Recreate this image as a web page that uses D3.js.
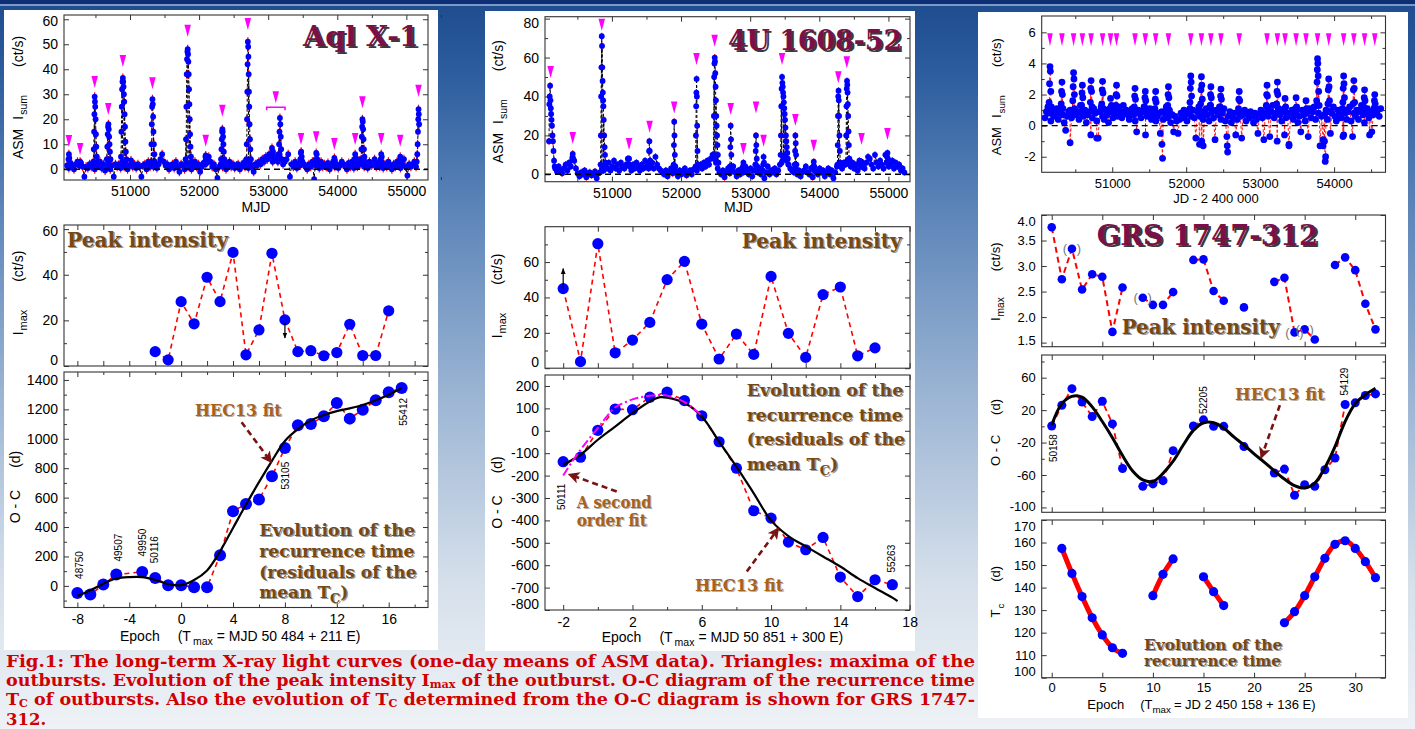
<!DOCTYPE html>
<html>
<head>
<meta charset="utf-8">
<script src="https://cdn.jsdelivr.net/npm/d3@7"></script>
<style>
  body { margin: 0; }
  svg { display: block; }
</style>
</head>
<body>
<svg width="1415" height="729"></svg>
<script>
const svg = d3.select("svg");
const SANS = "'Liberation Sans', Arial, sans-serif";
const SERIF = "'DejaVu Serif', 'Liberation Serif', serif";

// ---------- Aql X-1 ----------
const aqlStart = 50090, aqlStep = 25;
const aqlBase = [
  1.5, 0.5, 2.5, 1, 0, 2, 3, 1.5, 2.5, 1,
  -3, 1, 0.5, 2, 1, 2.5, 0, 1, 1.5, 3,
  0.5, 2, -0.5, 1, 2.5, 0, 1.5, -3, 2, 1,
  2, 0.5, 3, 1, 2, 0, 1.5, 3.5, 1, 2,
  0.5, 2, 1, -3, 1.5, 2, 0, 3, 1, 2,
  1, 2.5, 0.5, 2, 4, 6, 3, 1.5, 2, 0,
  1, 2, 0.5, 3, 1, -1, 2, 1.5, 0, 2.5,
  1, 2, 0, 1.5, 3, 1, 2, -1, 1, 2.5,
  2, 4, 5, 3, 1, 2, 0, -3.5, 1, 2,
  1, 2.5, 0, 1.5, 3, 1, 2, 0.5, 1.5, 2,
  0, 1, 2.5, 1, 3, 0.5, 2, 1, -1, 2,
  1.5, 3, 2, 4, 3, 5, 4, 6, 5, 3,
  4, 5, 3, 6, 4, 2, 3, 4, 6, -3,
  2, 1, 3, 0.5, 2, 1.5, 3, 2, 1, 0,
  2, 1, 3, -4, 1.5, 2, 0.5, 3, 1, 2,
  1, 2.5, 0, 1.5, 3, 1, 2, 0.5, 1.5, 3,
  2, 1, 0, 2.5, 1, 3, 0.5, 2, 1, 3.5,
  2, 3, 1, 2, 0.5, 3, 1.5, 2, 4, 1,
  2.5, 1, 3, 0.5, 2, 1, 3, 1.5, 0, 2,
  1, 3, 2, 0.5, 2, 4, 1, -2.5, 2, 1,
  2, 3, 1
];
const aqlBursts = [
  [50104, 1.5], [50110, 4], [50116, 6], [50122, 4.5], [50130, 2],
  [50270, 2], [50278, 3], [50286, 2.5],
  [50470, 3], [50476, 8], [50481, 15], [50485, 22], [50489, 29], [50493, 27], [50497, 25], [50502, 20], [50507, 14], [50513, 9], [50520, 5], [50530, 3],
  [50665, 4], [50672, 9], [50678, 14], [50683, 17], [50688, 18], [50693, 16], [50698, 13], [50704, 10], [50710, 7], [50718, 4],
  [50870, 5], [50876, 15], [50881, 25], [50886, 32], [50891, 35], [50897, 36.5], [50902, 35], [50907, 33], [50912, 30], [50917, 27], [50922, 22], [50928, 17], [50934, 11], [50940, 7], [50948, 4],
  [51305, 3], [51311, 10], [51316, 18], [51320, 25], [51325, 28], [51330, 26], [51335, 21], [51340, 15], [51346, 10], [51353, 6], [51360, 3],
  [51805, 4], [51811, 12], [51816, 25], [51821, 38], [51826, 44], [51831, 47], [51835, 48], [51840, 46], [51845, 43], [51850, 38], [51855, 32], [51860, 26], [51865, 20], [51870, 14], [51876, 9], [51883, 5], [51890, 3],
  [52085, 3], [52092, 5], [52096, 5.5], [52102, 4], [52110, 2.5],
  [52318, 4], [52324, 8], [52329, 12], [52333, 15], [52337, 16], [52342, 15], [52347, 13], [52352, 10], [52358, 7], [52365, 4],
  [52685, 4], [52690, 10], [52694, 20], [52698, 31], [52702, 42], [52706, 51], [52710, 49], [52714, 45], [52718, 38], [52722, 31], [52726, 25], [52731, 18], [52736, 12], [52742, 8], [52750, 4],
  [53040, 6], [53055, 8.5], [53070, 7], [53090, 5], [53150, 6], [53158, 10], [53164, 15], [53170, 20.5], [53176, 18], [53182, 13], [53188, 8], [53196, 4],
  [53465, 4], [53472, 6.5], [53478, 7], [53485, 5], [53495, 3],
  [53688, 4], [53695, 6.5], [53702, 6], [53710, 4],
  [53950, 3], [53958, 4.5], [53966, 3.5],
  [54250, 4], [54259, 6], [54268, 4.5],
  [54345, 4], [54350, 8], [54355, 13], [54360, 17], [54364, 20], [54369, 19], [54374, 16], [54380, 12], [54386, 8], [54393, 5], [54400, 3],
  [54628, 4], [54636, 6], [54644, 5],
  [54903, 3.5], [54911, 5], [54919, 4],
  [55150, 3], [55158, 6], [55163, 10], [55168, 15], [55172, 20], [55176, 24], [55180, 22], [55184, 18]
];
const aqlTri = [50116, 50278, 50489, 50686, 50897, 51325, 51835, 52096, 52337, 52706, 53110, 53475, 53695, 53958, 54259, 54364, 54636, 54911, 55176];
const aqlTriTop = [8.9, 5.7, 32.5, 21.7, 40.9, 32, 53, 9, 21, 55.7, 26.4, 9.7, 10.4, 7.7, 9.7, 24.4, 9.7, 9, 29];
const aqlPeakEpoch = [-2, -1, 0, 1, 2, 3, 4, 5, 6, 7, 8, 9, 10, 11, 12, 13, 14, 15, 16];
const aqlPeak = [6.3, 2.7, 28.2, 18.5, 38.9, 28.2, 49.8, 4.9, 15.8, 49.4, 20.2, 6.3, 6.7, 4.5, 5.9, 18.3, 4.6, 4.6, 24.2];
const aqlOCEpoch = [-8, -7, -6, -5, -3, -2, -1, 0, 1, 2, 3, 4, 5, 6, 7, 8, 9, 10, 11, 12, 13, 14, 15, 16, 17];
const aqlOC = [-48, -59, 9, 77, 95, 54, 5, 5, -9, -9, 208, 507, 557, 587, 745, 938, 1092, 1101, 1153, 1243, 1137, 1198, 1262, 1316, 1345];
const aqlFitEpoch = [-8, -7, -6, -5, -4, -3, -2, -1, 0, 1, 2, 3, 4, 5, 6, 7, 8, 9, 10, 11, 12, 13, 14, 15, 16, 17];
const aqlFit = [-68, -30, 15, 50, 60, 60, 40, 12, 5, 40, 105, 235, 394, 553, 705, 850, 985, 1065, 1125, 1162, 1188, 1207, 1230, 1262, 1300, 1345];

// ---------- 4U 1608-52 ----------
const uStart = 50180, uStep = 25;
const uBase = [
  3, 1.5, 4, 2, 0.5, 3, 5, 2, 6, 4,
  9, 7, 3, 0.5, -1, 1, 0, 2, -1.5, 0.5,
  1, -0.5, 0, 1.5, -2, 0.5, 1, 3, 2, 5,
  3, 6, 2, 4, 7, 3, 5, 2, 6, 4,
  3, 5, 8, 4, 2, 5, 3, 6, 4, 2,
  5, 3, 7, 4, 3, 4, 6, 3, 9, 5,
  3, 2, 1, 0, 2, -1, 1, 3, 0.5, 2,
  1, -1, 2, 0, 1.5, 3, -0.5, 1, 2, 0,
  2.5, 3, 2, 4, 5, 3, 6, 4, 7, 5,
  8, 10, 8, 6, 3, 1, 0, 2, -1.5, 1,
  3, 0.5, 2, 4, 1, -1, 2, 0, 3, 1,
  4, 2, 0, 3, -1, 2, 5, 1, 3, 0,
  2, -2, 1, 4, 0, 2, 1, 3, 0, 2,
  5, 6, 8, 10, 7, 5, 3, 2, 1, 3,
  0, 2, -1, 1, 2, 4, 1, 0, 3, -1.5,
  2, 1, 0, 3, 1, 2, -1, 1, 3, 0,
  2, -2, 1, 4, 5, 4, 3, 6, 5, 7,
  6, 4, 6, 3, 5, 2, 7, 4, 5, 3,
  6, 9, 8, 5, 3, 10, 6, 4, 7, 5,
  3, 10, 6, 4, 5, 7, 3, 6, 4, 5,
  2, 3, 1
];
const uBursts = [
  [50090, 17], [50095, 36], [50100, 40], [50106, 45.5], [50111, 38], [50116, 34], [50121, 31], [50127, 28], [50133, 25], [50140, 20], [50147, 17], [50155, 12], [50163, 7], [50172, 4],
  [50428, 8], [50433, 10.5], [50440, 8],
  [50835, 5], [50840, 20], [50844, 40], [50848, 55], [50853, 71], [50857, 66], [50861, 55], [50865, 48], [50869, 42], [50873, 38], [50877, 35], [50882, 28], [50888, 20], [50895, 14], [50900, 10], [50908, 6],
  [51243, 5], [51248, 8], [51255, 5],
  [51533, 6], [51538, 12], [51542, 17], [51547, 12], [51553, 7],
  [51893, 5], [51897, 15], [51901, 27], [51905, 20], [51910, 10], [51917, 4],
  [52210, 4], [52215, 20], [52219, 35], [52222, 42], [52225, 49], [52229, 40], [52233, 25], [52238, 12], [52245, 5],
  [52470, 10], [52475, 30], [52479, 50], [52483, 57], [52487, 60], [52491, 58], [52495, 52], [52500, 45], [52505, 38], [52510, 30], [52515, 25], [52521, 20], [52527, 15], [52533, 10], [52541, 6],
  [52708, 4], [52713, 14], [52718, 25], [52723, 18], [52728, 10], [52735, 4],
  [52896, 4], [52902, 6], [52909, 4],
  [53075, 5], [53080, 12], [53084, 20], [53089, 15], [53095, 8], [53102, 4],
  [53188, 5], [53194, 9], [53200, 6],
  [53440, 10], [53445, 20], [53450, 35], [53455, 44], [53461, 50], [53466, 47], [53471, 45], [53476, 42], [53481, 40], [53487, 37], [53493, 34], [53499, 31], [53505, 28], [53511, 24], [53517, 20], [53523, 17], [53530, 14], [53537, 11], [53545, 8], [53553, 5],
  [53645, 5], [53650, 12], [53654, 20], [53659, 16], [53664, 10], [53670, 5],
  [53913, 4], [53920, 6.5], [53927, 4],
  [54262, 5], [54266, 15], [54270, 30], [54274, 40], [54278, 43], [54282, 38], [54286, 30], [54291, 20], [54297, 12], [54305, 6],
  [54385, 6], [54389, 20], [54393, 35], [54397, 44], [54401, 48], [54405, 46], [54409, 42], [54413, 36], [54418, 30], [54423, 22], [54428, 15], [54435, 8], [54443, 5],
  [54604, 4], [54611, 6.5], [54618, 5],
  [54975, 6], [54981, 9], [54986, 11], [54992, 8], [55000, 5]
];
const uTri = [50113, 50433, 50853, 51248, 51545, 51901, 52224, 52486, 52718, 52902, 53084, 53194, 53461, 53654, 53920, 54275, 54398, 54611, 54986];
const uTriTop = [49.5, 15.6, 73.8, 12.5, 21.4, 31.3, 56.2, 65.6, 30.5, 9.9, 31.3, 14.2, 56.2, 24.8, 11.6, 46.8, 54.5, 15.1, 17.6];
const uPeakEpoch = [-2, -1, 0, 1, 2, 3, 4, 5, 6, 7, 8, 9, 10, 11, 12, 13, 14, 15, 16];
const uPeak = [45.0, 3.7, 70.4, 8.7, 15.9, 25.9, 50.1, 60.4, 24.9, 5.2, 19.3, 7.8, 51.9, 19.7, 6.1, 41.6, 45.9, 7.0, 11.5];
const uOCEpoch = [-2, -1, 0, 1, 2, 3, 4, 5, 6, 7, 8, 9, 10, 11, 12, 13, 14, 15, 16, 17];
const uOC = [-138, -118, 2, 97, 94, 150, 173, 135, 67, -49, -167, -357, -390, -497, -531, -476, -653, -740, -665, -687];
const uFitEpoch = [-2, -1, 0, 1, 2, 3, 3.6, 4, 5, 6, 7, 8, 9, 10, 11, 12, 13, 14, 15, 16, 17, 17.3];
const uFit = [-152, -107, -40, 19, 79, 131, 150, 148, 124, 64, -48, -160, -279, -400, -470, -516, -561, -606, -658, -702, -745, -760];
const uFit2Epoch = [-2, -1.5, -1, -0.5, 0, 0.5, 1, 1.5, 2, 2.5, 3, 3.5, 4, 5, 6];
const uFit2 = [-200, -140, -85, -35, 12, 62, 105, 125, 140, 150, 156, 160, 157, 128, 68];

// ---------- GRS 1747-312 ----------
const gStart = 50090, gStep = 20;
const gBase = [
  0.5, 0.9, 1.2, 0.8, 0.3, 1.0, 0.6, 0.9, 1.1, 0.4,
  0.8, 1.2, 0.7, 0.2, -0.3, 0.6, 0.9, 1.0, 0.5, 0.8,
  1.1, 0.7, 0.9, 0.4, 1.3, 0.8, 0.6, 1.0, 0.2, 0.7,
  0.9, -0.6, 0.5, 1.1, 0.8, 0.3, -0.8, 0.9, 1.2, 0.6,
  0.4, 1.0, 0.7, 0.2, 0.9, 1.3, 0.5, 0.8, 1.1, 0.6,
  1.2, 0.9, 0.5, 1.3, 0.8, 1.0, 0.7, 0.4, 0.9, 1.1,
  0.7, 0.3, -0.4, 1.0, 0.8, 0.5, 0.9, 1.2, -0.6, 0.6,
  0.9, 1.1, 0.4, 0.7, 1.0, 0.3, 0.6, 0.8, -0.5, 0.9,
  0.4, 0.8, 1.2, 0.5, 0.9, 0.2, 0.7, -0.4, 0.6, 0.3,
  -0.5, 0.4, 0.8, 0.5, 1.0, 0.7, 0.3, 0.9, 1.1, 0.6,
  1.0, 0.5, -0.8, 0.9, 1.2, 0.6, -1.0, 0.4, 0.8, 1.1,
  0.7, 0.3, 1.3, 0.9, 0.5, -0.9, 1.0, 0.7, 1.2, 0.4,
  0.8, 1.1, 0.3, -0.7, 0.6, 0.9, 0.2, 0.5, 0.8, -0.6,
  0.4, 0.9, 0.6, -0.8, 0.7, 1.0, 0.3, 0.8, 0.5, 0.9,
  0.6, 0.2, 0.8, 0.4, -0.5, 0.7, 1.0, 0.5, -0.9, 0.8,
  1.2, 0.6, -0.7, 0.9, 1.3, 0.5, 0.8, -1.0, 1.1, 0.7,
  0.3, 0.9, -0.6, 0.5, 0.8, -1.2, 0.6, 1.0, 0.4, 0.7,
  0.9, 0.2, 0.6, -0.4, 1.0, 0.7, 0.3, 0.8, -0.7, 1.1,
  0.5, 0.9, 1.2, 0.4, 1.3, 0.8, -1.3, 0.6, -0.9, 0.7,
  1.0, 0.4, 0.9, -0.5, 0.8, 1.2, 0.6, 0.3, 1.0, 0.7,
  0.5, 1.1, -0.6, 0.8, 0.4, 0.9, 1.2, 0.3, -0.7, 0.8,
  0.6, 1.0, 0.4, 0.9, 1.3, 0.7, 0.2, 0.8, 1.1, 0.5,
  0.9, -0.4, 0.7, 1.2, 0.8, 1.0, 0.6, 1.1
];
const gSpikes = [
  [50146, 1.5], [50152, 2.7], [50158, 3.8], [50163, 3.5], [50169, 2.2], [50176, 1.2],
  [50310, 1.4], [50315, 2.2], [50320, 2.8], [50326, 2.0], [50333, 1.1],
  [50466, 1.6], [50471, 2.5], [50477, 3.4], [50482, 3.0], [50488, 2.0], [50495, 1.0],
  [50586, 1.3], [50591, 2.1], [50596, 2.6], [50602, 1.8], [50609, 1.0],
  [50704, 1.5], [50709, 2.4], [50714, 2.9], [50720, 2.2], [50727, 1.2],
  [50858, 1.4], [50864, 2.3], [50869, 2.85], [50875, 2.1], [50882, 1.1],
  [50968, 1.1], [50977, 1.75], [50985, 1.2],
  [51048, 1.3], [51053, 2.0], [51058, 2.6], [51064, 1.9], [51071, 1.0],
  [51298, 1.2], [51303, 1.9], [51308, 2.4], [51314, 1.7], [51321, 0.9],
  [51437, 1.2], [51442, 1.8], [51447, 2.2], [51453, 1.6], [51460, 0.9],
  [51577, 1.1], [51582, 1.7], [51587, 2.2], [51593, 1.5], [51600, 0.8],
  [51750, 1.3], [51755, 2.0], [51760, 2.5], [51766, 1.8], [51773, 1.0],
  [52051, 1.5], [52056, 2.4], [52062, 3.2], [52067, 2.8], [52073, 1.9], [52080, 1.0],
  [52195, 1.4], [52200, 2.3], [52206, 3.15], [52211, 2.6], [52217, 1.7], [52224, 0.9],
  [52324, 1.3], [52329, 2.0], [52334, 2.5], [52340, 1.8], [52347, 1.0],
  [52460, 1.2], [52465, 1.9], [52470, 2.35], [52476, 1.7], [52483, 0.9],
  [52707, 1.1], [52712, 1.7], [52717, 2.2], [52723, 1.6], [52730, 0.8],
  [53083, 1.3], [53088, 2.0], [53093, 2.6], [53099, 1.9], [53106, 1.0],
  [53223, 1.4], [53228, 2.2], [53233, 2.8], [53239, 2.0], [53246, 1.1],
  [53328, 1.1], [53337, 1.75], [53345, 1.2],
  [53477, 1.1], [53486, 1.8], [53494, 1.2],
  [53611, 1.0], [53620, 1.6], [53628, 1.1],
  [53764, 1.6], [53769, 2.8], [53773, 3.6], [53776, 4.3], [53780, 4.0], [53785, 3.2], [53791, 2.2], [53798, 1.3],
  [53916, 1.4], [53921, 2.3], [53927, 3.0], [53932, 2.5], [53938, 1.6], [53945, 0.9],
  [54118, 1.5], [54123, 2.4], [54129, 3.2], [54134, 2.7], [54140, 1.8], [54147, 1.0],
  [54256, 1.4], [54261, 2.3], [54267, 2.9], [54272, 2.4], [54278, 1.5],
  [54402, 1.2], [54407, 1.8], [54412, 2.3], [54418, 1.6], [54425, 0.9],
  [54540, 1.1], [54545, 1.6], [54550, 2.0], [54556, 1.4], [54563, 0.8]
];
const gDips = [[50430, -1.1], [50790, -0.8], [51672, -1.2], [51680, -2.1], [52180, -1.2], [52230, -1.3],
  [52555, -1.3], [52560, -1.7], [53390, -1.3], [53850, -1.3], [53870, -1.0], [53880, -2.3], [53885, -2.0],
  [54120, -0.7], [54480, -0.6]];
const gTri = [50158, 50320, 50477, 50596, 50714, 50869, 50977, 51058, 51308, 51447, 51587, 51760, 52062, 52206,
  52334, 52470, 52717, 53093, 53233, 53337, 53486, 53620, 53776, 53927, 54129, 54267, 54412, 54550];
const gTriTop = 5.1;
const gPeakEpoch = [0, 1, 2, 3, 4, 5, 6, 7, 9, 10, 11, 12, 14, 15, 16, 17, 19, 22, 23, 24, 25, 26, 28, 29, 30, 31, 32];
const gPeak = [3.76, 2.74, 3.34, 2.54, 2.84, 2.79, 1.71, 2.58, 2.38, 2.24, 2.24, 2.49, 3.12, 3.13, 2.51, 2.32, 2.19, 2.69, 2.77, 1.70, 1.76, 1.56, 3.02, 3.17, 2.92, 2.26, 1.76];
const gParen = [2, 9, 24, 25];
const gOCEpoch = [0, 1, 2, 3, 4, 5, 6, 7, 9, 10, 11, 12, 14, 15, 16, 17, 19, 22, 23, 24, 25, 26, 27, 28, 29, 30, 31, 32];
const gOC = [0.4, 26, 46.5, 30, 12, 31, 3, -52, -74, -71, -67, -30, 0.4, 8, 0, 0, -25, -57.5, -52.7, -85, -72, -74, -53.5, -39, 27, 29, 38, 40];
const gFitEpoch = [0, 1, 2, 3, 4, 5, 6, 7, 8, 9, 10, 11, 12, 13, 14, 15, 16, 17, 18, 19, 20, 21, 22, 23, 24, 25, 26, 27, 28, 29, 30, 31, 32];
const gFit = [1.6, 28, 37, 36, 24, 6, -14, -36, -55, -66, -68, -58, -43, -23, -5, 4.5, 4.5, -2, -13, -23, -34, -44, -55, -65, -73, -76, -70, -51, -25, 6, 28, 39, 47];
const gTcEpoch = [1, 2, 3, 4, 5, 6, 7, 10, 11, 12, 15, 16, 17, 23, 24, 25, 26, 27, 28, 29, 30, 31, 32];
const gTc = [157.4, 146.3, 136.0, 126.6, 119.0, 113.3, 110.8, 136.4, 145.9, 152.7, 144.8, 138.2, 132.0, 124.4, 129.3, 136.4, 144.8, 153.0, 159.2, 160.8, 157.4, 151.5, 144.4];

// ---------- background ----------
const defs = svg.append('defs');
const grad = defs.append('linearGradient').attr('id', 'bg').attr('x1', 0).attr('y1', 0).attr('x2', 0).attr('y2', 1);
[[0, '#1e4c8e'], [0.1, '#2d5d9e'], [0.3, '#5f87ba'], [0.55, '#9db6d4'], [0.8, '#d6e0eb'], [1, '#eef2f6']]
  .forEach(([o, c]) => grad.append('stop').attr('offset', o).attr('stop-color', c));
svg.append('rect').attr('width', 1415).attr('height', 729).attr('fill', 'url(#bg)');
svg.append('rect').attr('width', 1415).attr('height', 4).attr('fill', '#0e2f75');
svg.append('line').attr('x1', 0).attr('x2', 1415).attr('y1', 5).attr('y2', 5).attr('stroke', '#9db5d8').attr('stroke-width', 1.5);
[[4, 10, 434, 640], [485, 11, 430, 640], [978, 12, 430, 706]].forEach(([x, y, w, h]) =>
  svg.append('rect').attr('x', x).attr('y', y).attr('width', w).attr('height', h).attr('fill', '#fff'));

defs.append('marker').attr('id', 'ah').attr('viewBox', '0 0 10 10').attr('refX', 8).attr('refY', 5)
  .attr('markerWidth', 4.5).attr('markerHeight', 4.5).attr('orient', 'auto')
  .append('path').attr('d', 'M0,0L10,5L0,10L2.5,5Z').attr('fill', '#7a1212');
defs.append('marker').attr('id', 'ahk').attr('viewBox', '0 0 10 10').attr('refX', 9).attr('refY', 5)
  .attr('markerWidth', 5).attr('markerHeight', 5).attr('orient', 'auto')
  .append('path').attr('d', 'M0,1L10,5L0,9Z').attr('fill', '#000');

// ---------- helpers ----------
let clipN = 0;
function panel(c) {
  const x = d3.scaleLinear().domain(c.xd).range([c.l, c.r]);
  const y = d3.scaleLinear().domain(c.yd).range([c.b, c.t]);
  const g = svg.append('g');
  const fs = c.fs || 14;
  const id = 'clip' + (clipN++);
  defs.append('clipPath').attr('id', id).append('rect')
    .attr('x', c.l).attr('y', c.t).attr('width', c.r - c.l).attr('height', c.b - c.t);
  function ax(axis, tr, vals, size, fmt, pad) {
    const a = g.append('g').attr('transform', tr)
      .call(axis.tickValues(vals || []).tickSize(-size).tickPadding(pad || 6).tickFormat(fmt || ''));
    a.select('.domain').remove();
    a.selectAll('line').attr('stroke', '#333');
    a.attr('font-family', SANS).attr('font-size', fs);
    a.selectAll('text').attr('fill', '#000');
    return a;
  }
  const xf = c.xlab ? (c.xfmt || (d => String(d))) : null;
  const yf = c.yfmt || (d => String(d));
  ax(d3.axisBottom(x), `translate(0,${c.b})`, c.xt, 5, xf, c.xpad);
  ax(d3.axisBottom(x), `translate(0,${c.b})`, c.xm, 3);
  ax(d3.axisTop(x), `translate(0,${c.t})`, c.xt, 5);
  ax(d3.axisTop(x), `translate(0,${c.t})`, c.xm, 3);
  const la = ax(d3.axisLeft(y), `translate(${c.l},0)`, c.yt, 5, yf, 6);
  la.selectAll('text').attr('y', d => {
    const p = y(d);
    return Math.max(0, c.t + 6 - p) - Math.max(0, p - (c.b - 6));
  });
  ax(d3.axisLeft(y), `translate(${c.l},0)`, c.ym, 3);
  ax(d3.axisRight(y), `translate(${c.r},0)`, c.yt, 5);
  ax(d3.axisRight(y), `translate(${c.r},0)`, c.ym, 3);
  g.append('rect').attr('x', c.l).attr('y', c.t).attr('width', c.r - c.l).attr('height', c.b - c.t)
    .attr('fill', 'none').attr('stroke', '#333').attr('stroke-width', 1.1);
  return { x, y, g, clip: `url(#${id})`, c };
}

function rich(t, parts, fs) {
  let down = 0;
  parts.forEach(p => {
    const s = typeof p === 'string' ? { t: p } : p;
    const sh = s.sub ? fs * (s.sh || 0.32) : 0;
    const ts = t.append('tspan').text(s.t);
    if (sh - down) ts.attr('dy', sh - down);
    if (s.dx) ts.attr('dx', s.dx);
    if (s.sub) ts.attr('font-size', fs * (s.k || 0.75));
    down = sh;
  });
  return t;
}

function sansText(x, y, parts, fs, o = {}) {
  const t = svg.append('text').attr('font-family', SANS).attr('font-size', fs).attr('fill', '#000')
    .attr('text-anchor', o.anchor || 'start');
  if (o.rot) t.attr('transform', `translate(${x},${y}) rotate(-90)`);
  else t.attr('x', x).attr('y', y);
  return rich(t, parts, fs);
}

function serifText(x, y, parts, o) {
  [[o.sh || 0, o.shc], [0, o.fill]].forEach(([d, col]) => {
    if (!col) return;
    const t = svg.append('text').attr('x', x + d).attr('y', y + d)
      .attr('font-family', SERIF).attr('font-weight', 'bold').attr('font-size', o.fs)
      .attr('fill', col).attr('text-anchor', o.anchor || 'start');
    if (o.len) t.attr('textLength', o.len).attr('lengthAdjust', 'spacingAndGlyphs');
    rich(t, parts, o.fs);
  });
}

function lightCurve(p, start, step, base, extra, o) {
  const pts = base.map((v, i) => [start + step * i, v]).concat(extra).sort((a, b) => a[0] - b[0]);
  const g = p.g.append('g').attr('clip-path', p.clip);
  g.append('g').selectAll('line').data(pts).join('line')
    .attr('x1', d => p.x(d[0])).attr('x2', d => p.x(d[0]))
    .attr('y1', d => p.y(d[1] - o.err)).attr('y2', d => p.y(d[1] + o.err))
    .attr('stroke', '#ff0000').attr('stroke-width', 1.2);
  g.append('path').datum(pts)
    .attr('d', d3.line().x(d => p.x(d[0])).y(d => p.y(d[1])))
    .attr('fill', 'none').attr('stroke', o.line).attr('stroke-width', o.lw || 1).attr('stroke-dasharray', '3,2');
  g.append('g').selectAll('circle').data(pts).join('circle')
    .attr('cx', d => p.x(d[0])).attr('cy', d => p.y(d[1])).attr('r', o.r).attr('fill', '#0000ff');
  g.append('line').attr('x1', p.c.l).attr('x2', p.c.r).attr('y1', p.y(0)).attr('y2', p.y(0))
    .attr('stroke', '#000').attr('stroke-width', 1.4).attr('stroke-dasharray', '6,4');
}

function triangles(p, ts, tops, w, h) {
  p.g.append('g').selectAll('path').data(ts.map((t, i) => [t, Array.isArray(tops) ? tops[i] : tops])).join('path')
    .attr('d', d => {
      const X = p.x(d[0]), Y = p.y(d[1]);
      return `M${X - w / 2},${Y - h}L${X + w / 2},${Y - h}L${X},${Y}Z`;
    })
    .attr('fill', '#ff00ff');
}

function withGaps(es, vs) {
  const out = [];
  es.forEach((e, i) => {
    if (i > 0 && e - es[i - 1] > 1) out.push(null);
    out.push([e, vs[i]]);
  });
  return out;
}

function scatter(p, es, vs, o) {
  const data = o.gaps ? withGaps(es, vs) : es.map((e, i) => [e, vs[i]]);
  const line = d3.line().defined(d => d).x(d => p.x(d[0])).y(d => p.y(d[1]));
  p.g.append('path').datum(data).attr('d', line)
    .attr('fill', 'none').attr('stroke', '#ff0000').attr('stroke-width', o.lw || 1.6)
    .attr('stroke-dasharray', o.dash || '5,4');
  p.g.append('g').selectAll('circle').data(es.map((e, i) => [e, vs[i]])).join('circle')
    .attr('cx', d => p.x(d[0])).attr('cy', d => p.y(d[1])).attr('r', o.r).attr('fill', '#0000ff');
}

function fitLine(p, es, vs, o) {
  p.g.append('path').datum(es.map((e, i) => [e, vs[i]]))
    .attr('d', d3.line().curve(d3.curveCatmullRom.alpha(0.5)).x(d => p.x(d[0])).y(d => p.y(d[1])))
    .attr('fill', 'none').attr('stroke', o.color || '#000').attr('stroke-width', o.lw || 2)
    .attr('stroke-dasharray', o.dash || null);
}

function arrow(p, a, b) {
  p.g.append('line').attr('x1', p.x(a[0])).attr('y1', p.y(a[1])).attr('x2', p.x(b[0])).attr('y2', p.y(b[1]))
    .attr('stroke', '#7a1212').attr('stroke-width', 2.6).attr('stroke-dasharray', '6,4')
    .attr('marker-end', 'url(#ah)');
}

function smallArrow(p, e, v1, v2) {
  p.g.append('line').attr('x1', p.x(e)).attr('x2', p.x(e)).attr('y1', p.y(v1)).attr('y2', p.y(v2))
    .attr('stroke', '#000').attr('stroke-width', 1.2).attr('marker-end', 'url(#ahk)');
}

function vlabel(p, e, v, txt, fs) {
  p.g.append('text').attr('transform', `translate(${p.x(e)},${p.y(v)}) rotate(-90)`)
    .attr('text-anchor', 'middle').attr('dy', '0.35em')
    .attr('font-family', SANS).attr('font-size', fs || 10).attr('fill', '#000').text(txt);
}

const TITLE = { fs: 28, fill: '#7b1048', shc: '#3a3a3a', sh: 2.2 };
const BROWN = { fs: 20, fill: '#784814', shc: '#9a9a9a', sh: 1.3 };
const FIT = { fs: 16, fill: '#a8621c', shc: '#b8b0a8', sh: 1 };
const evoLines = [['Evolution of the'], ['recurrence time'], ['(residuals of the'], ['mean T', { t: 'C', sub: true }, ')']];

// ---------- Aql X-1 column ----------
const pA1 = panel({ l: 64, r: 428, t: 15, b: 180, xd: [50045, 55313], yd: [-4.3, 61.7],
  xt: [51000, 52000, 53000, 54000, 55000], xm: [50500, 51500, 52500, 53500, 54500, 55500], xlab: true,
  yt: [0, 10, 20, 30, 40, 50, 60] });
lightCurve(pA1, aqlStart, aqlStep, aqlBase, aqlBursts, { r: 2.9, err: 1.8, line: '#000' });
triangles(pA1, aqlTri, aqlTriTop, 6.5, 12);
pA1.g.append('path')
  .attr('d', `M${pA1.x(52978)},${pA1.y(23.6)}V${pA1.y(24.8)}H${pA1.x(53244)}V${pA1.y(23.6)}`)
  .attr('fill', 'none').attr('stroke', '#ff00ff').attr('stroke-width', 1.6);
serifText(419, 46, ['Aql X-1'], { ...TITLE, anchor: 'end', len: 116 });
sansText(23, 97.5, ['ASM', { t: 'I', dx: 9 }, { t: 'sum', sub: true, dx: 1 }, { t: '(ct/s)', dx: 28 }], 14, { rot: true, anchor: 'middle' });
sansText(256, 212, ['MJD'], 14, { anchor: 'middle' });

const pA2 = panel({ l: 64, r: 428, t: 225, b: 366, xd: [-9.03, 19.03], yd: [0, 61.8],
  xt: [-8, -6, -4, -2, 0, 2, 4, 6, 8, 10, 12, 14, 16, 18], yt: [0, 20, 40, 60], ym: [10, 30, 50] });
scatter(pA2, aqlPeakEpoch, aqlPeak, { r: 5.6 });
smallArrow(pA2, 8, 19, 12.3);
serifText(67, 247, ['Peak intensity'], { ...BROWN, len: 161 });
sansText(23, 293, ['I', { t: 'max', sub: true, dx: 1, k: 0.78 }, { t: '(ct/s)', dx: 28 }], 14, { rot: true, anchor: 'middle' });

const pA3 = panel({ l: 64, r: 428, t: 372, b: 607.5, xd: [-9.03, 19.03], yd: [-147, 1454],
  xt: [-8, -4, 0, 4, 8, 12, 16], xm: [-6, -2, 2, 6, 10, 14, 18], xlab: true, xpad: 7,
  yt: [0, 200, 400, 600, 800, 1000, 1200, 1400], ym: [-100, 100, 300, 500, 700, 900, 1100, 1300] });
scatter(pA3, aqlOCEpoch, aqlOC, { r: 6 });
fitLine(pA3, aqlFitEpoch, aqlFit, { lw: 2.2 });
vlabel(pA3, -7.8, 142, '48750');
vlabel(pA3, -4.85, 260, '49507');
vlabel(pA3, -2.97, 294, '49950');
vlabel(pA3, -2.02, 246, '50116');
vlabel(pA3, 8.08, 749, '53105');
vlabel(pA3, 17.12, 1183, '55412');
arrow(pA3, [4.66, 1113], [6.9, 846]);
serifText(195, 416, ['HEC13 fit'], { ...FIT, len: 86.7 });
[536, 557, 577.5, 597.5].forEach((yy, i) =>
  serifText(259.3, yy, evoLines[i], { ...BROWN, fs: 16, len: [155.7, 155, 157.3, 89][i] }));
sansText(20, 487, ['O - C', { t: '(d)', dx: 22 }], 14, { rot: true, anchor: 'middle' });
sansText(120, 641, ['Epoch', { t: '(T', dx: 18 }, { t: 'max', sub: true, dx: 2 }, { t: '= MJD 50 484 + 211 E)', dx: 4 }], 14);

// ---------- 4U 1608-52 column ----------
const pU1 = panel({ l: 545, r: 910, t: 16.7, b: 181.7, xd: [50032, 55312], yd: [-3.8, 81],
  xt: [51000, 52000, 53000, 54000, 55000], xm: [50500, 51500, 52500, 53500, 54500], xlab: true,
  yt: [0, 20, 40, 60, 80], ym: [10, 30, 50, 70] });
lightCurve(pU1, uStart, uStep, uBase, uBursts, { r: 2.9, err: 1.8, line: '#000' });
triangles(pU1, uTri, uTriTop, 6.5, 12);
serifText(902, 50, ['4U 1608-52'], { ...TITLE, anchor: 'end', len: 174 });
sansText(503, 101.7, ['ASM', { t: 'I', dx: 9 }, { t: 'sum', sub: true, dx: 1 }, { t: '(ct/s)', dx: 28 }], 14, { rot: true, anchor: 'middle' });
sansText(738.5, 212, ['MJD'], 14, { anchor: 'middle' });

const pU2 = panel({ l: 545, r: 910, t: 226.7, b: 368.2, xd: [-3.05, 18.02], yd: [0, 80],
  xt: [-2, 0, 2, 4, 6, 8, 10, 12, 14, 16, 18], yt: [0, 20, 40, 60], ym: [10, 30, 50, 70] });
scatter(pU2, uPeakEpoch, uPeak, { r: 5.6 });
smallArrow(pU2, -2, 45, 56.3);
serifText(901.7, 248, ['Peak intensity'], { ...BROWN, anchor: 'end', len: 160 });
sansText(502, 296, ['I', { t: 'max', sub: true, dx: 1, k: 0.78 }, { t: '(ct/s)', dx: 28 }], 14, { rot: true, anchor: 'middle' });

const pU3 = panel({ l: 545, r: 910, t: 375, b: 610, xd: [-3.05, 18.02], yd: [-800, 249],
  xt: [-2, 2, 6, 10, 14, 18], xm: [0, 4, 8, 12, 16], xlab: true, xpad: 7,
  yt: [-800, -700, -600, -500, -400, -300, -200, -100, 0, 100, 200] });
scatter(pU3, uOCEpoch, uOC, { r: 5.6 });
fitLine(pU3, uFitEpoch, uFit, { lw: 2.2 });
fitLine(pU3, uFit2Epoch, uFit2, { lw: 2, color: '#ff00ff', dash: '9,3,2,3' });
vlabel(pU3, -2.09, -295, '50111');
vlabel(pU3, 16.98, -571, '55263');
arrow(pU3, [1.09, -271], [-1.61, -196]);
arrow(pU3, [8.6, -628], [10.39, -439]);
serifText(576.7, 508, ['A second'], { ...FIT, len: 75 });
serifText(576.7, 526, ['order fit'], { ...FIT, len: 70 });
serifText(695, 591, ['HEC13 fit'], { ...FIT, len: 88.3 });
[396, 421, 445, 470].forEach((yy, i) =>
  serifText(746.7, yy, evoLines[i], { ...BROWN, fs: 16.5, len: [156.7, 156, 158.3, 91.7][i] }));
sansText(502, 492.5, ['O - C', { t: '(d)', dx: 22 }], 14, { rot: true, anchor: 'middle' });
sansText(601.7, 641.5, ['Epoch', { t: '(T', dx: 18 }, { t: 'max', sub: true, dx: 2 }, { t: '= MJD 50 851 + 300 E)', dx: 4 }], 14);

// ---------- GRS 1747-312 column ----------
const gx = [0, 5, 10, 15, 20, 25, 30];
const pG1 = panel({ l: 1041.7, r: 1385.5, t: 16, b: 172.3, xd: [50046, 54695], yd: [-3, 7.05], fs: 13,
  xt: [51000, 52000, 53000, 54000], xm: [50500, 51500, 52500, 53500, 54500], xlab: true,
  yt: [-2, 0, 2, 4, 6], ym: [-1, 1, 3, 5] });
lightCurve(pG1, gStart, gStep, gBase, gSpikes.concat(gDips), { r: 3.4, err: 0.15, line: '#ff0000', lw: 0.9 });
triangles(pG1, gTri, gTriTop, 5.5, 13);
sansText(1001, 96.7, ['ASM', { t: 'I', dx: 9 }, { t: 'sum', sub: true, dx: 1 }, { t: '(ct/s)', dx: 28 }], 13, { rot: true, anchor: 'middle' });
sansText(1216, 203, ['JD - 2 400 000'], 13, { anchor: 'middle' });

const pG2 = panel({ l: 1041.7, r: 1385.5, t: 215, b: 346.7, xd: [-0.99, 32.99], yd: [1.42, 4.0], fs: 13,
  xt: gx, yt: [1.5, 2, 2.5, 3, 3.5, 4], yfmt: d3.format('.1f') });
scatter(pG2, gPeakEpoch, gPeak, { r: 4.3, gaps: true, lw: 2, dash: '6,4' });
gParen.forEach(e => {
  const v = gPeak[gPeakEpoch.indexOf(e)];
  [['(', -7], [')', 7]].forEach(([s, dx]) =>
    pG2.g.append('text').attr('x', pG2.x(e) + dx).attr('y', pG2.y(v)).attr('dy', '0.35em')
      .attr('text-anchor', 'middle').attr('font-family', SANS).attr('font-size', 13).attr('fill', '#777').text(s));
});
serifText(1096.7, 245, ['GRS 1747-312'], { ...TITLE, len: 221.6 });
serifText(1121.7, 334, ['Peak intensity'], { ...BROWN, len: 158 });
sansText(1000, 281.7, ['I', { t: 'max', sub: true, dx: 1, k: 0.78 }, { t: '(ct/s)', dx: 26 }], 13, { rot: true, anchor: 'middle' });

const pG3 = panel({ l: 1041.7, r: 1385.5, t: 355, b: 512.3, xd: [-0.99, 32.99], yd: [-106, 88], fs: 13,
  xt: gx, yt: [-100, -60, -20, 20, 60], ym: [-80, -40, 0, 40, 80] });
scatter(pG3, gOCEpoch, gOC, { r: 4.5, gaps: true, lw: 1.8, dash: '6,4' });
fitLine(pG3, gFitEpoch, gFit, { lw: 3 });
vlabel(pG3, 0.16, -26.9, '50158');
vlabel(pG3, 14.97, 32.3, '52205');
vlabel(pG3, 28.97, 55.2, '54129');
arrow(pG3, [22.55, 26.2], [20.74, -37.6]);
serifText(1235, 400, ['HEC13 fit'], { ...FIT, len: 90 });
sansText(1000, 432.5, ['O - C', { t: '(d)', dx: 20 }], 13, { rot: true, anchor: 'middle' });

const pG4 = panel({ l: 1041.7, r: 1385.5, t: 520, b: 677.7, xd: [-0.99, 32.99], yd: [100, 170], fs: 13,
  xt: gx, xlab: true, xpad: 5, yt: [100, 110, 120, 130, 140, 150, 160, 170] });
withGaps(gTcEpoch, gTc).reduce((segs, d) => {
  if (d) segs[segs.length - 1].push(d); else segs.push([]);
  return segs;
}, [[]]).forEach(seg => {
  pG4.g.append('path').datum(seg)
    .attr('d', d3.line().curve(d3.curveMonotoneX).x(d => pG4.x(d[0])).y(d => pG4.y(d[1])))
    .attr('fill', 'none').attr('stroke', '#ff0000').attr('stroke-width', 5).attr('stroke-linecap', 'round');
});
pG4.g.append('g').selectAll('circle').data(gTcEpoch.map((e, i) => [e, gTc[i]])).join('circle')
  .attr('cx', d => pG4.x(d[0])).attr('cy', d => pG4.y(d[1])).attr('r', 4.6).attr('fill', '#0000ff');
serifText(1144, 650, ['Evolution of the'], { ...BROWN, fs: 14.5, len: 138.3 });
serifText(1144, 666, ['recurrence time'], { ...BROWN, fs: 14.5, len: 137 });
sansText(1000, 591.7, ['T', { t: 'c', sub: true, dx: 1 }, { t: '(d)', dx: 22 }], 13, { rot: true, anchor: 'middle' });
sansText(1087.3, 709, ['Epoch', { t: '(T', dx: 16 }, { t: 'max', sub: true }, { t: '= JD 2 450 158 + 136 E)', dx: 3 }], 13);

// ---------- caption ----------
const capSub = t => ({ t, sub: true, k: 0.64, sh: 0.14 });
const capLines = [
  ['Fig.1: The long-term X-ray light curves (one-day means of ASM data). Triangles: maxima of the'],
  ['outbursts. Evolution of the peak intensity I', capSub('max'), ' of the outburst. O-C diagram of the recurrence time'],
  ['T', capSub('C'), ' of outbursts. Also the evolution of T', capSub('C'), ' determined from the O-C diagram is shown for GRS 1747-'],
  ['312.']
];
[667, 686, 705, 724.5].forEach((yy, i) => {
  const t = svg.append('text').attr('x', 6).attr('y', yy)
    .attr('font-family', SERIF).attr('font-weight', 'bold').attr('font-size', 16.5).attr('fill', '#d00000');
  if (i < 3) t.attr('textLength', 969).attr('lengthAdjust', 'spacingAndGlyphs');
  rich(t, capLines[i], 16.5);
});
</script>
</body>
</html>
